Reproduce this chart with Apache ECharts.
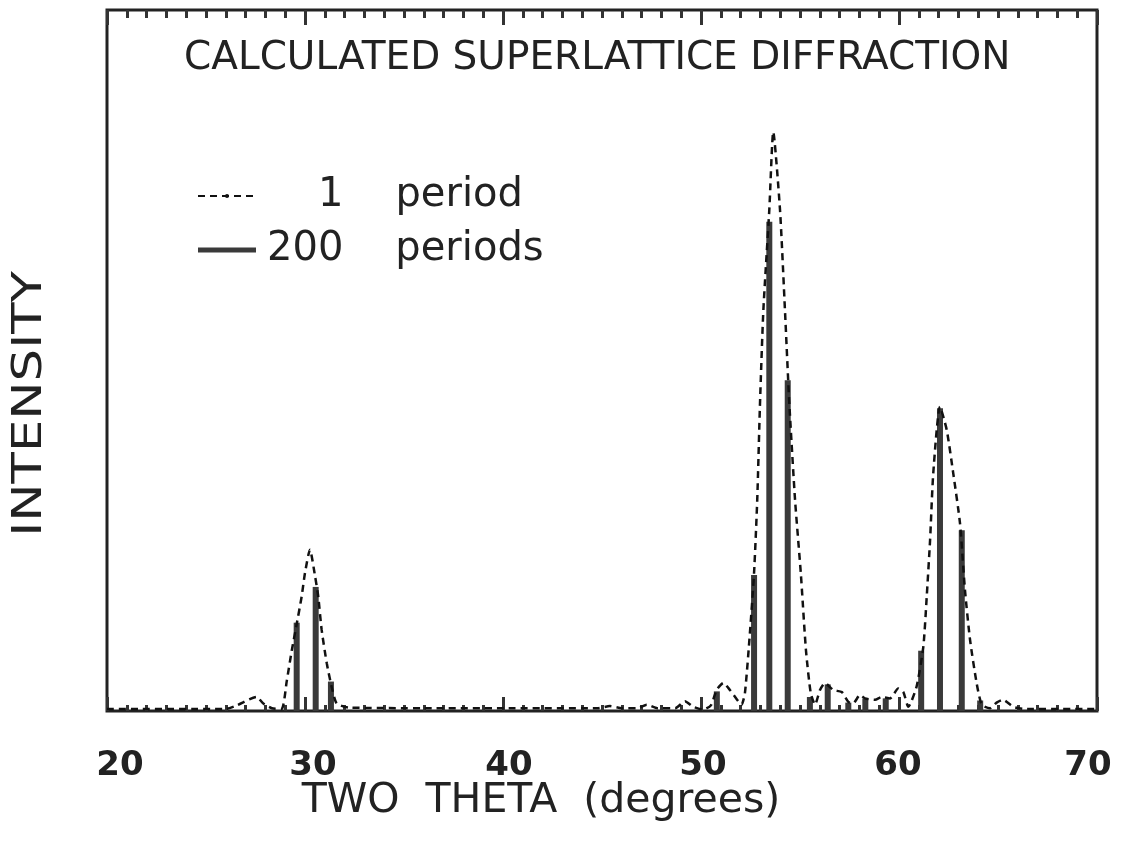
<!DOCTYPE html>
<html>
<head>
<meta charset="utf-8">
<script src="https://cdn.jsdelivr.net/npm/echarts@6/dist/echarts.min.js"></script>
<style>
html,body{margin:0;padding:0;background:#fff;}
#chart{width:1123px;height:847px;}
</style>
</head>
<body>
<div id="chart"></div>
<script>
// ---- data ----
const xTickLabels = [20, 30, 40, 50, 60, 70];

// 1 period (dashed curve)
const onePeriodTheta = [20.0, 26.0, 26.55, 27.56, 27.88, 28.33, 28.82, 29.08, 29.33, 29.58, 29.83, 30.0, 30.25, 30.51, 30.67, 30.84, 31.10, 31.35, 31.60, 32.2, 36.0, 40.0, 44.8, 45.4, 46.0, 46.8, 47.26, 47.8, 48.7, 49.19, 49.61, 50.10, 50.5, 50.79, 51.13, 51.46, 51.88, 52.05, 52.22, 52.47, 52.68, 52.84, 52.98, 53.15, 53.45, 53.65, 53.99, 54.24, 54.46, 54.75, 55.04, 55.30, 55.54, 55.76, 56.01, 56.26, 56.68, 57.11, 57.44, 57.69, 58.03, 58.28, 58.79, 59.13, 59.55, 59.96, 60.22, 60.47, 60.89, 61.23, 61.40, 61.57, 61.73, 62.07, 62.41, 62.74, 63.08, 63.33, 63.59, 63.92, 64.18, 64.6, 64.93, 65.25, 65.77, 66.3, 70.0];
const onePeriodIntensity = [0.3, 0.3, 0.8, 2.0, 1.1, 0.4, 0.3, 4.3, 8.6, 12.4, 16.3, 19.7, 23.0, 19.2, 16.3, 11.6, 6.8, 3.4, 1.1, 0.5, 0.4, 0.4, 0.4, 0.7, 0.4, 0.4, 0.9, 0.4, 0.4, 1.4, 0.6, 0.2, 0.8, 3.0, 4.0, 3.0, 1.4, 0.9, 2.6, 11.1, 19.7, 30.1, 43.9, 57.2, 71.5, 82.6, 71.5, 57.2, 43.9, 30.1, 19.7, 8.7, 2.6, 0.9, 3.0, 4.0, 3.0, 2.7, 1.3, 1.1, 2.3, 1.8, 1.6, 2.0, 1.8, 3.2, 2.7, 0.6, 3.5, 9.2, 16.3, 24.4, 33.9, 43.4, 40.1, 33.9, 26.8, 17.3, 10.1, 4.0, 0.9, 0.4, 1.2, 1.6, 0.6, 0.3, 0.3];

// 200 periods (sharp lines)
const periods200Theta = [29.58, 30.54, 31.31, 50.8, 52.68, 53.45, 54.38, 55.5, 56.4, 57.44, 58.3, 59.33, 61.12, 62.07, 63.17, 64.1];
const periods200Intensity = [12.6, 17.7, 4.2, 2.8, 19.4, 69.8, 47.2, 2.0, 3.8, 1.2, 1.8, 1.8, 8.6, 43.2, 25.8, 1.5];

// ---- build ----
const onePeriodData = onePeriodTheta.map((t, i) => [t, onePeriodIntensity[i]]);
const periods200Data = periods200Theta.map((t, i) => [t, periods200Intensity[i]]);

const FONT = 'DejaVu Sans';
const INK = '#222';

const labelRich = {};
const labelPad = {20: [0, 0, 0, 26], 30: [0, 0, 0, 16], 40: [0, 0, 0, 12], 50: [0, 0, 0, 4], 60: [0, 2, 0, 0], 70: [0, 18, 0, 0]};
xTickLabels.forEach(v => {
  labelRich['p' + v] = {fontSize: 34, fontWeight: 'bold', fontFamily: FONT, color: INK, padding: labelPad[v] || [0, 0, 0, 0]};
});

function tickAxis(position, interval, length, withLabels) {
  const ax = {
    type: 'value', position: position, min: 20, max: 70, interval: interval,
    gridIndex: 0,
    axisLine: {show: false},
    splitLine: {show: false},
    axisTick: {show: true, inside: true, length: length, lineStyle: {color: '#333', width: 3}},
    axisLabel: {show: false}
  };
  if (withLabels) {
    ax.axisLabel = {
      show: true, margin: 38,
      fontSize: 34, fontWeight: 'bold', fontFamily: FONT, color: INK,
      formatter: function (v) {
        if (xTickLabels.indexOf(v) < 0) return '';
        return '{p' + v + '|' + v + '}';
      },
      rich: labelRich
    };
    ax.name = 'TWO  THETA  (degrees)';
    ax.nameLocation = 'middle';
    ax.nameGap = 70;
    ax.nameMoveOverlap = false;
    ax.nameTextStyle = {fontSize: 41, fontFamily: FONT, color: INK, padding: [0, 122, 0, 0]};
  }
  return ax;
}

const chart = echarts.init(document.getElementById('chart'), null, {renderer: 'canvas'});
chart.setOption({
  backgroundColor: '#fff',
  animation: false,
  title: {
    text: 'CALCULATED SUPERLATTICE DIFFRACTION',
    left: 184, top: 39, padding: 0,
    textStyle: {fontSize: 39, fontWeight: 'normal', fontFamily: FONT, color: INK}
  },
  legend: {
    orient: 'vertical', left: 197, top: 176, padding: 0,
    itemWidth: 58, itemHeight: 5, itemGap: 14,
    data: [{name: '1 period'}, {name: '200 periods', icon: 'rect'}],
    textStyle: {fontSize: 40, fontFamily: FONT, color: INK, rich: {
      one: {fontSize: 40, fontFamily: FONT, color: INK, padding: [0, 0, 0, 57]},
      num: {fontSize: 40, fontFamily: FONT, color: INK, padding: [0, 0, 0, 6]},
      t: {fontSize: 40, fontFamily: FONT, color: INK, padding: [0, 0, 0, 52]}
    }},
    formatter: function (name) {
      const parts = name.split(' ');
      const key = parts[0].length === 1 ? 'one' : 'num';
      return '{' + key + '|' + parts[0] + '}{t|' + parts[1] + '}';
    }
  },
  grid: {left: 107, right: 26, top: 10, bottom: 136, show: true, borderColor: '#222', borderWidth: 3, containLabel: false},
  xAxis: [
    tickAxis('bottom', 1, 6, true),
    tickAxis('bottom', 10, 14, false),
    tickAxis('top', 1, 8, false),
    tickAxis('top', 10, 15, false)
  ],
  yAxis: {
    type: 'value', min: 0, max: 100,
    axisLine: {show: false}, axisTick: {show: false}, axisLabel: {show: false}, splitLine: {show: false}
  },
  graphic: [{
    type: 'text', x: 30, y: 404, rotation: Math.PI / 2, scaleX: 1.25,
    style: {text: 'INTENSITY', font: 'normal 41px "DejaVu Sans"', fill: INK, textAlign: 'center', textVerticalAlign: 'middle', align: 'center', verticalAlign: 'middle'}
  }],
  series: [
    {
      name: '200 periods', type: 'bar', xAxisIndex: 0, yAxisIndex: 0,
      data: periods200Data, barWidth: 6, z: 2,
      itemStyle: {color: '#3a3a3a'}
    },
    {
      name: '1 period', type: 'line', xAxisIndex: 0, yAxisIndex: 0,
      data: onePeriodData, symbol: 'none', smooth: 0.2, z: 3,
      lineStyle: {color: '#111', width: 2.5, type: [7, 5]},
      itemStyle: {color: '#111'}
    }
  ]
});
</script>
</body>
</html>
